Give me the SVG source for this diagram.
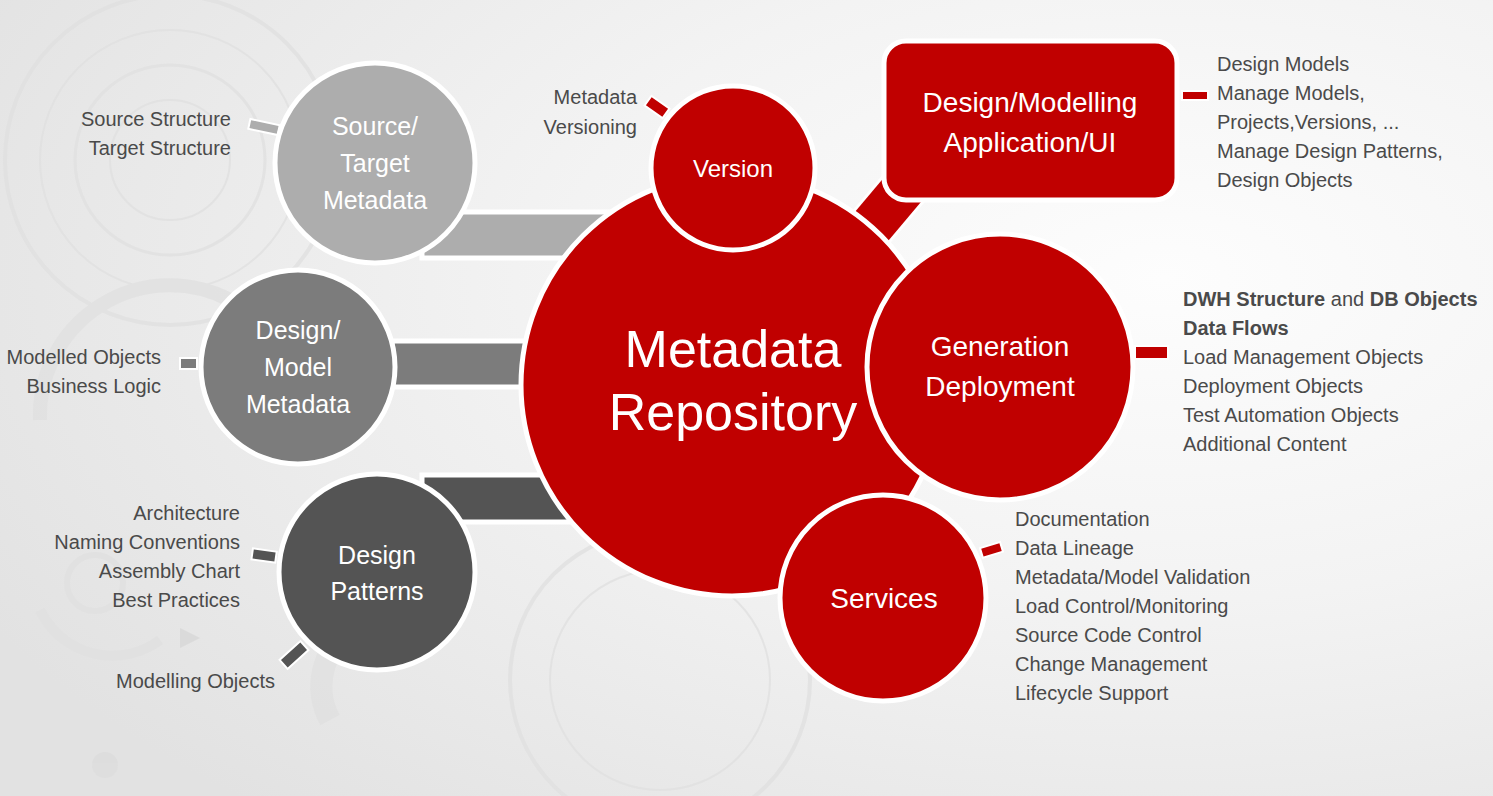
<svg xmlns="http://www.w3.org/2000/svg" width="1493" height="796" viewBox="0 0 1493 796">
<defs>
<radialGradient id="bg" cx="0.78" cy="0.35" r="0.9">
<stop offset="0" stop-color="#fdfdfd"/>
<stop offset="0.45" stop-color="#f3f3f3"/>
<stop offset="1" stop-color="#e2e2e2"/>
</radialGradient>
<style>
.lst{font-family:"Liberation Sans",Arial,sans-serif;font-size:20px;fill:#4a4a4a}
.r{text-anchor:end}
.lbl{font-family:"Liberation Sans",Arial,sans-serif;fill:#ffffff;text-anchor:middle}
.red{fill:#c00000;stroke:#ffffff;stroke-width:5}
.g1{fill:#adadad;stroke:#ffffff;stroke-width:5}
.g2{fill:#7c7c7c;stroke:#ffffff;stroke-width:5}
.g3{fill:#545454;stroke:#ffffff;stroke-width:5}
.stubR{fill:#c00000;stroke:#ffffff;stroke-width:2}
.stub1{fill:#adadad;stroke:#ffffff;stroke-width:2}
.stub2{fill:#7c7c7c;stroke:#ffffff;stroke-width:2}
.stub3{fill:#545454;stroke:#ffffff;stroke-width:2}
.deco{fill:none;stroke:#e1e1e1}
</style>
</defs>
<rect x="0" y="0" width="1493" height="796" fill="url(#bg)"/>
<g id="background-decor" opacity="0.8">
<circle class="deco" cx="170" cy="160" r="60" stroke-width="2"/>
<circle class="deco" cx="170" cy="160" r="95" stroke-width="3"/>
<circle class="deco" cx="170" cy="160" r="130" stroke-width="2"/>
<circle class="deco" cx="170" cy="160" r="165" stroke-width="4"/>
<path class="deco" d="M40 420 A130 130 0 0 1 230 300" stroke-width="14"/>
<circle class="deco" cx="95" cy="583" r="28" stroke-width="6"/>
<path class="deco" d="M40 610 A80 80 0 0 0 160 640" stroke-width="10"/>
<path d="M180 628 L200 638 L180 648 Z" fill="#d8d8d8"/>
<circle class="deco" cx="660" cy="680" r="150" stroke-width="4"/>
<circle class="deco" cx="660" cy="680" r="110" stroke-width="2"/>
<path class="deco" d="M330 720 A70 70 0 0 1 350 630" stroke-width="22"/>
<circle cx="105" cy="765" r="13" fill="#dddddd"/>
</g>
<g id="connectors">
<rect x="422" y="212" width="200" height="46" class="g1" stroke-width="3"/>
<rect x="392" y="341" width="140" height="46" class="g2" stroke-width="3"/>
<rect x="422" y="475" width="170" height="47" class="g3" stroke-width="3"/>
<line x1="845" y1="258" x2="925" y2="163" stroke="#ffffff" stroke-width="50"/>
<line x1="845" y1="258" x2="925" y2="163" stroke="#c00000" stroke-width="44"/>
<rect x="249" y="122" width="30" height="10" class="stub1" transform="rotate(12 264 127)"/>
<rect x="646" y="101" width="22" height="12" class="stubR" transform="rotate(35 657 107)"/>
<rect x="1182" y="91" width="26" height="9" class="stubR"/>
<rect x="180" y="358" width="17" height="11" class="stub2"/>
<rect x="1135" y="346" width="33" height="13" class="stubR"/>
<rect x="252" y="550" width="24" height="11" class="stub3" transform="rotate(8 264 556)"/>
<rect x="280" y="649" width="28" height="12" class="stub3" transform="rotate(-42 294 655)"/>
<rect x="981" y="545" width="21" height="10" class="stubR" transform="rotate(-17 991 550)"/>
</g>
<g id="metadata-repository">
<circle cx="732" cy="385" r="211" class="red"/>
<text class="lbl" x="733" y="367" font-size="52">Metadata</text>
<text class="lbl" x="733" y="430" font-size="52">Repository</text>
</g>
<g id="version">
<circle cx="733" cy="168" r="82" class="red"/>
<text class="lbl" x="733" y="177" font-size="24">Version</text>
</g>
<g id="design-modelling-app">
<rect x="884" y="41" width="293" height="159" rx="22" class="red"/>
<text class="lbl" x="1030" y="112" font-size="28">Design/Modelling</text>
<text class="lbl" x="1030" y="152" font-size="28">Application/UI</text>
</g>
<g id="generation-deployment">
<circle cx="1000" cy="367" r="133" class="red"/>
<text class="lbl" x="1000" y="356" font-size="28">Generation</text>
<text class="lbl" x="1000" y="396" font-size="28">Deployment</text>
</g>
<g id="services">
<circle cx="883" cy="598" r="103" class="red"/>
<text class="lbl" x="884" y="608" font-size="28">Services</text>
</g>
<g id="source-target-metadata">
<circle cx="375" cy="163" r="100" class="g1"/>
<text class="lbl" x="375" y="135" font-size="25">Source/</text>
<text class="lbl" x="375" y="172" font-size="25">Target</text>
<text class="lbl" x="375" y="209" font-size="25">Metadata</text>
</g>
<g id="design-model-metadata">
<circle cx="298" cy="367" r="97" class="g2"/>
<text class="lbl" x="298" y="339" font-size="25">Design/</text>
<text class="lbl" x="298" y="376" font-size="25">Model</text>
<text class="lbl" x="298" y="413" font-size="25">Metadata</text>
</g>
<g id="design-patterns">
<circle cx="377" cy="572" r="98" class="g3"/>
<text class="lbl" x="377" y="564" font-size="25">Design</text>
<text class="lbl" x="377" y="600" font-size="25">Patterns</text>
</g>
<g id="list-source">
<text class="lst r" x="231" y="126">Source Structure</text>
<text class="lst r" x="231" y="155">Target Structure</text>
</g>
<g id="list-version">
<text class="lst r" x="637" y="104">Metadata</text>
<text class="lst r" x="637" y="134">Versioning</text>
</g>
<g id="list-design-app">
<text class="lst" x="1217" y="71">Design Models</text>
<text class="lst" x="1217" y="100">Manage Models,</text>
<text class="lst" x="1217" y="129">Projects,Versions, ...</text>
<text class="lst" x="1217" y="158">Manage Design Patterns,</text>
<text class="lst" x="1217" y="187">Design Objects</text>
</g>
<g id="list-generation">
<text class="lst" x="1183" y="306"><tspan font-weight="bold">DWH Structure</tspan> and <tspan font-weight="bold">DB Objects</tspan></text>
<text class="lst" x="1183" y="335" font-weight="bold">Data Flows</text>
<text class="lst" x="1183" y="364">Load Management Objects</text>
<text class="lst" x="1183" y="393">Deployment Objects</text>
<text class="lst" x="1183" y="422">Test Automation Objects</text>
<text class="lst" x="1183" y="451">Additional Content</text>
</g>
<g id="list-services">
<text class="lst" x="1015" y="526">Documentation</text>
<text class="lst" x="1015" y="555">Data Lineage</text>
<text class="lst" x="1015" y="584">Metadata/Model Validation</text>
<text class="lst" x="1015" y="613">Load Control/Monitoring</text>
<text class="lst" x="1015" y="642">Source Code Control</text>
<text class="lst" x="1015" y="671">Change Management</text>
<text class="lst" x="1015" y="700">Lifecycle Support</text>
</g>
<g id="list-design-model">
<text class="lst r" x="161" y="364">Modelled Objects</text>
<text class="lst r" x="161" y="393">Business Logic</text>
</g>
<g id="list-patterns">
<text class="lst r" x="240" y="520">Architecture</text>
<text class="lst r" x="240" y="549">Naming Conventions</text>
<text class="lst r" x="240" y="578">Assembly Chart</text>
<text class="lst r" x="240" y="607">Best Practices</text>
<text class="lst r" x="275" y="688">Modelling Objects</text>
</g>
</svg>
